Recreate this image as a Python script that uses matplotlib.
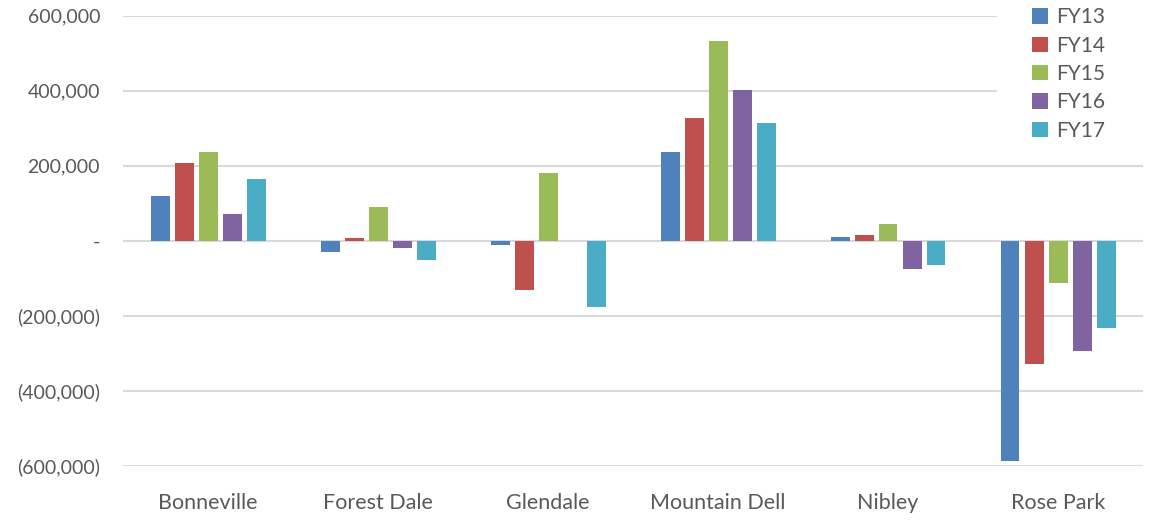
import matplotlib.pyplot as plt
import matplotlib.ticker as ticker
import numpy as np

# DATOS
sites = ["Bonneville", "Forest Dale", "Glendale", "Mountain Dell", "Nibley", "Rose Park"]
years = ["FY13", "FY14", "FY15", "FY16", "FY17"]
fy13 = [119000, -30000, -12000, 236000, 10000, -589000]
fy14 = [207000, 7000, -132000, 327000, 15000, -328000]
fy15 = [236000, 89000, 181000, 531000, 45000, -114000]
fy16 = [71000, -20000, 0, 402000, -76000, -295000]
fy17 = [164000, -52000, -177000, 314000, -64000, -234000]
yticks = [-600000, -400000, -200000, 0, 200000, 400000, 600000]

colores = ["#4F81BD", "#C0504D", "#9BBB59", "#8064A2", "#4BACC6"]
gris = "#595959"

plt.rcParams['font.family'] = ['Lato', 'DejaVu Sans']

fig = plt.figure(figsize=(11.49, 5.22), dpi=100)
ax = fig.add_axes([123 / 1149, (522 - 465.5) / 522, 1020 / 1149, 450 / 522])

x = np.arange(len(sites))
pitch = 24 / 170
width = 19 / 170
series = [fy13, fy14, fy15, fy16, fy17]
for i, (vals, lab, c) in enumerate(zip(series, years, colores)):
    ax.bar(x + (i - 2) * pitch, vals, width=width, color=c, label=lab, zorder=3)

ax.set_xlim(-0.5, len(sites) - 0.5)
ax.set_ylim(-600000, 600000)
ax.set_yticks(yticks)


def contable(v, pos):
    if v == 0:
        return "-"
    if v < 0:
        return "({:,.0f})".format(-v)
    return "{:,.0f}".format(v)


ax.yaxis.set_major_formatter(ticker.FuncFormatter(contable))
ax.set_xticks(x)
ax.set_xticklabels(sites)

ax.grid(axis='y', color='#D9D9D9', linewidth=1.5, zorder=0)
ax.set_axisbelow(True)
for s in ax.spines.values():
    s.set_visible(False)
ax.tick_params(axis='both', length=0, labelcolor=gris)
ax.tick_params(axis='y', pad=16.5, labelsize=14)
ax.tick_params(axis='x', pad=20, labelsize=15.5)

# fondo blanco del area de la leyenda (corta la rejilla como en Excel)
ax.axvspan(5.5 - 146 / 170, 5.5, ymin=0.69, ymax=1.0, color='white', zorder=1)

leg = fig.legend(loc='upper left', bbox_to_anchor=(1026 / 1149, 1 - 1 / 522),
                 frameon=True, fontsize=15, handlelength=0.75, handleheight=0.75,
                 handletextpad=0.4, labelspacing=0.4, borderpad=0.3,
                 borderaxespad=0)
leg.get_frame().set_edgecolor('none')
leg.get_frame().set_facecolor('white')
leg.get_frame().set_alpha(1)
for t in leg.get_texts():
    t.set_color(gris)

plt.savefig('out.png', dpi=100)
plt.close(fig)
